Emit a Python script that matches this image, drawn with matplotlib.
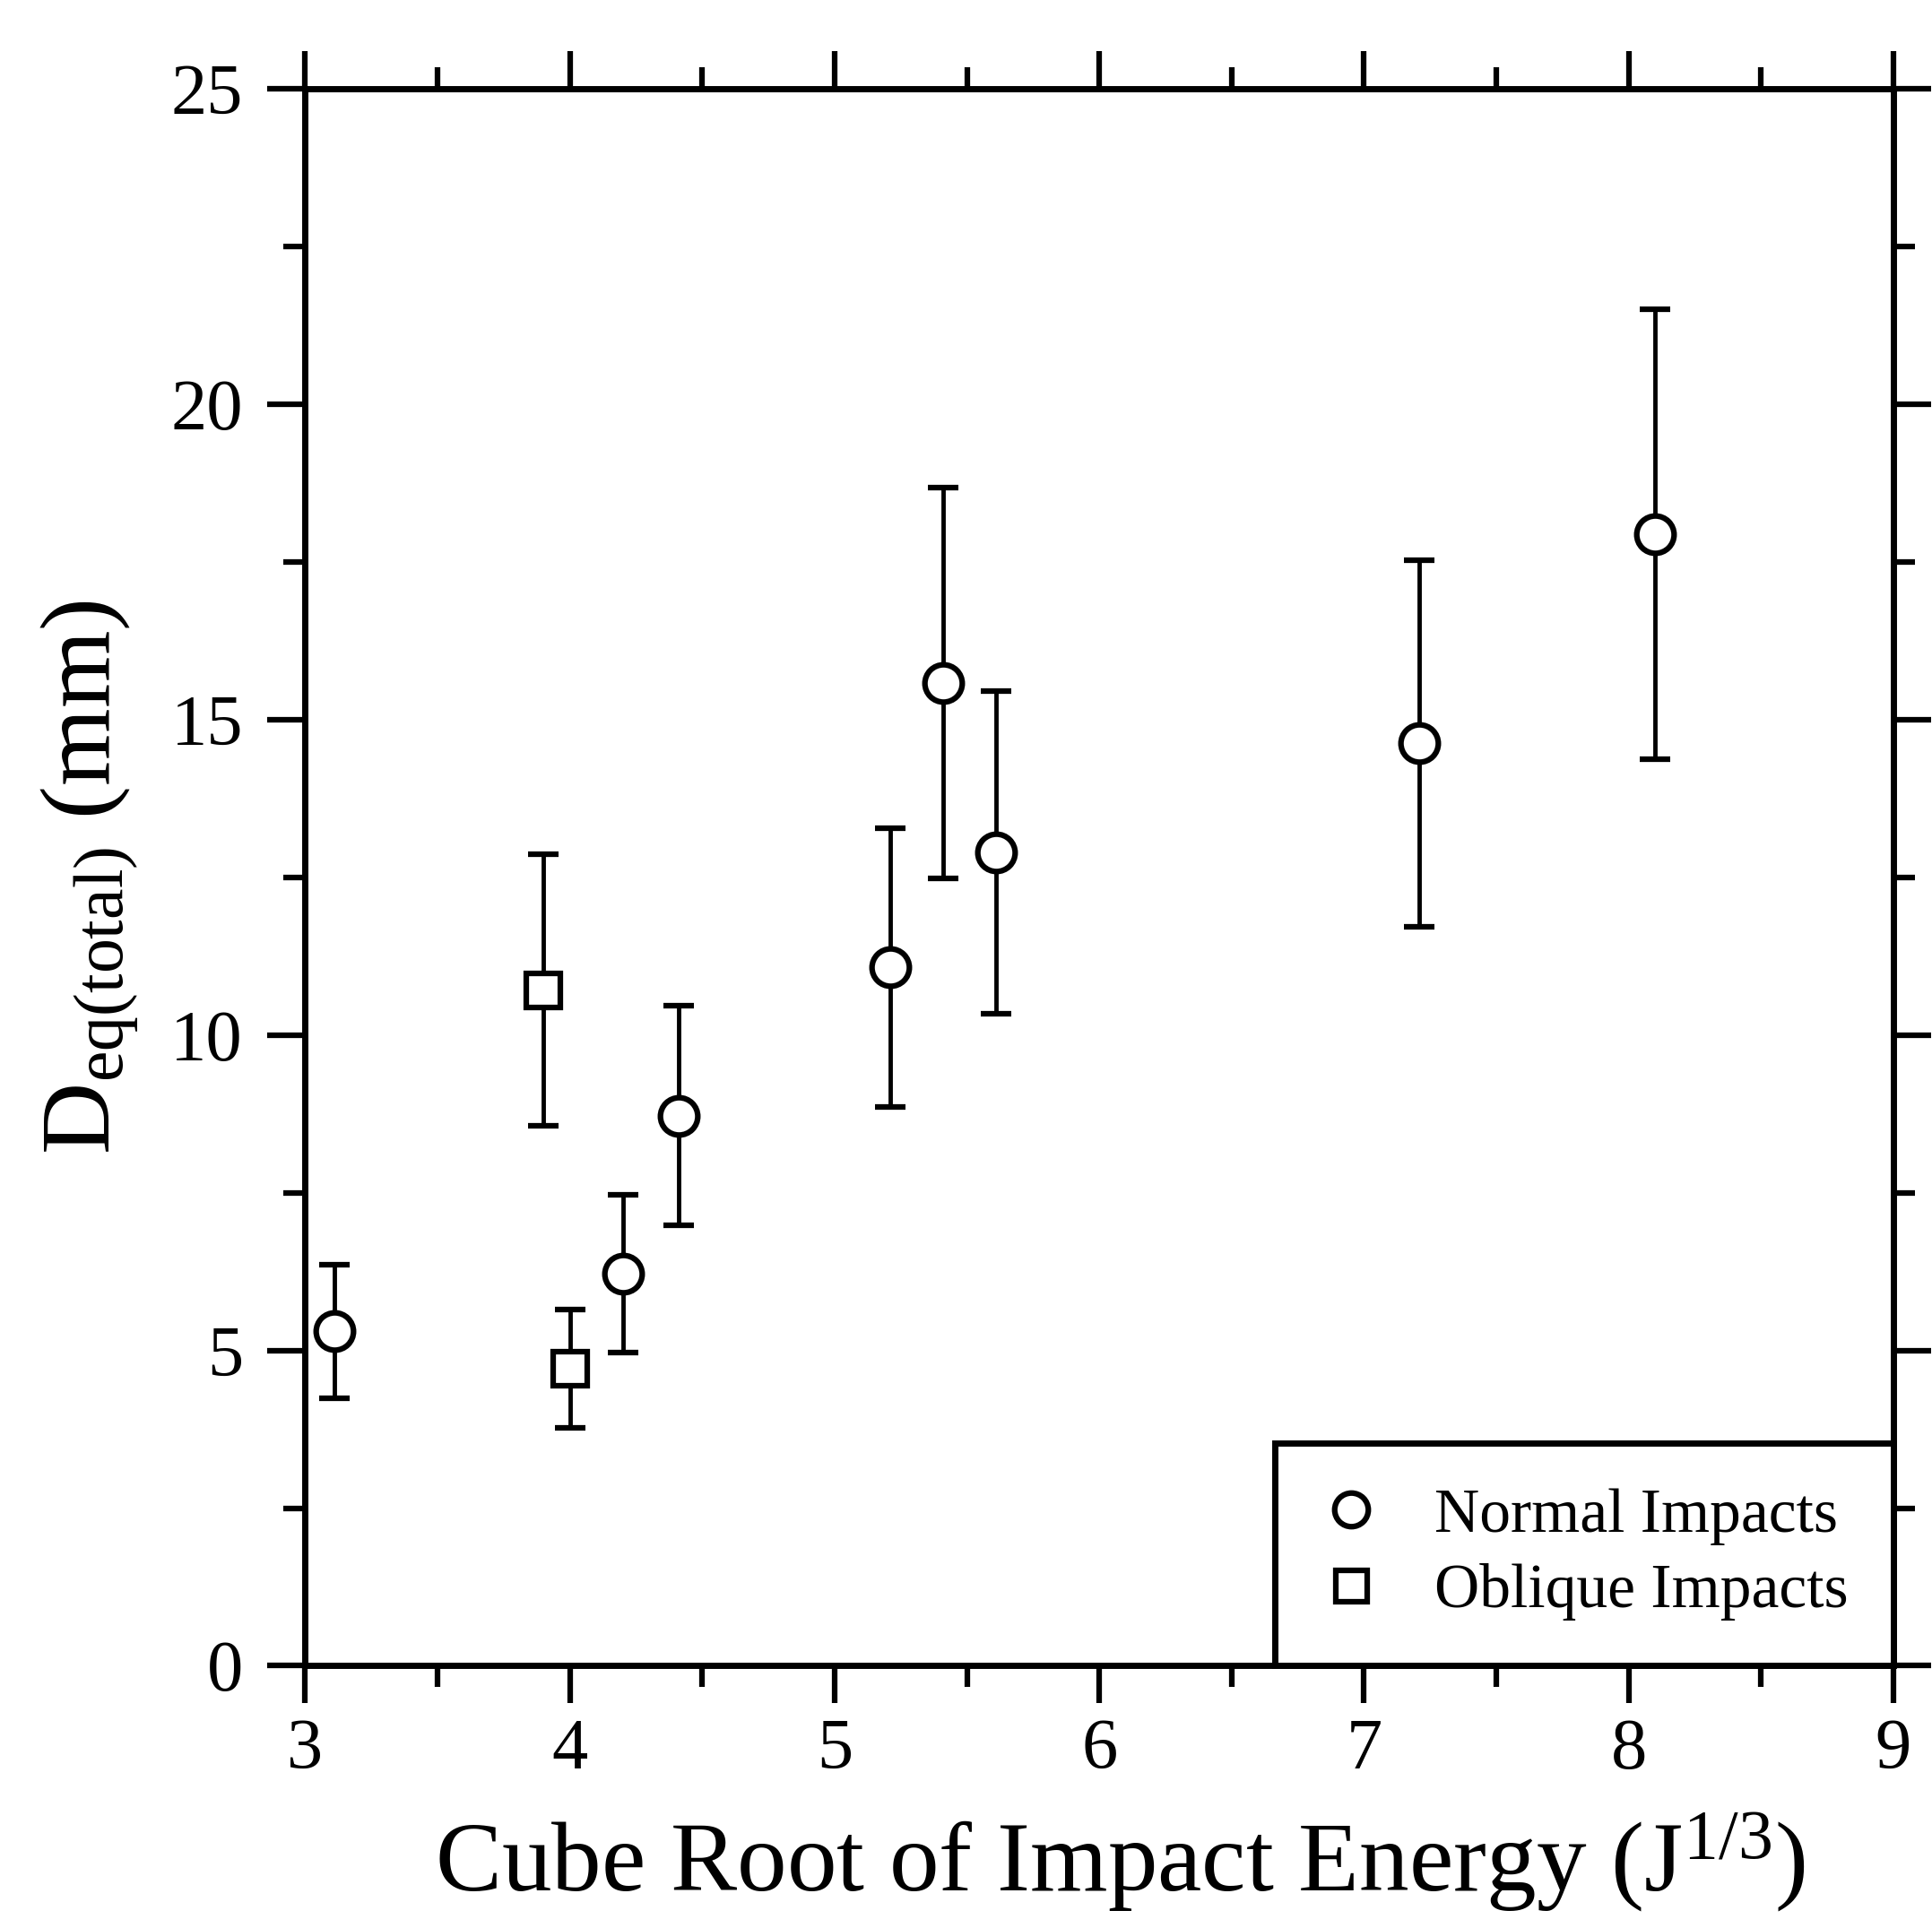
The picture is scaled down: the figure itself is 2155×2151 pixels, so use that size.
import matplotlib
matplotlib.use("Agg")
import matplotlib.pyplot as plt
from matplotlib.ticker import MultipleLocator

plt.rcParams['font.family'] = ['Liberation Serif', 'DejaVu Serif']
plt.rcParams['mathtext.fontset'] = 'custom'
plt.rcParams['mathtext.rm'] = 'Liberation Serif'
plt.rcParams['mathtext.it'] = 'Liberation Serif:italic'

# normal impacts (circles)
normal_x = [3.11, 4.20, 4.41, 5.21, 5.41, 5.61, 7.21, 8.10]
normal_y = [5.30, 6.21, 8.72, 11.07, 15.58, 12.89, 14.62, 17.94]
normal_err = [1.06, 1.25, 1.74, 2.21, 3.10, 2.56, 2.90, 3.57]

# oblique impacts (squares)
oblique_x = [3.90, 4.00]
oblique_y = [10.71, 4.71]
oblique_err = [2.15, 0.94]

x_ticks = [3, 4, 5, 6, 7, 8, 9]
y_ticks = [0, 5, 10, 15, 20, 25]

fig = plt.figure(figsize=(21.55, 21.51), dpi=100)
ax = fig.add_axes([0.158, 0.136, 0.822, 0.818])

ax.errorbar(normal_x, normal_y, yerr=normal_err, fmt='o', color='black',
            mfc='white', mec='black', ms=30, mew=4.5, elinewidth=3.5,
            capsize=12, capthick=5, label='Normal Impacts')
ax.errorbar(oblique_x, oblique_y, yerr=oblique_err, fmt='s', color='black',
            mfc='white', mec='black', ms=28, mew=4.5, elinewidth=3.5,
            capsize=12, capthick=5, label='Oblique Impacts')

ax.set_xlim(3, 9)
ax.set_ylim(0, 25)
ax.set_xticks(x_ticks)
ax.set_yticks(y_ticks)
ax.xaxis.set_minor_locator(MultipleLocator(0.5))
ax.yaxis.set_minor_locator(MultipleLocator(2.5))

for s in ax.spines.values():
    s.set_linewidth(5)

ax.tick_params(which='both', direction='out', top=True, right=True,
               labeltop=False, labelright=False, width=4.5)
ax.tick_params(which='major', length=30)
ax.tick_params(which='minor', length=17)
ax.tick_params(axis='x', which='major', labelsize=58, pad=12)
ax.tick_params(axis='y', which='major', labelsize=58, pad=20)

ax.set_xlabel(r'Cube Root of Impact Energy (J$^{1/3}$)', fontsize=80, labelpad=22)
ax.xaxis.label.set_x(0.513)
ax.set_ylabel(r'$\mathrm{D}_{\mathrm{eq(total)}}$ (mm)', fontsize=80, labelpad=24)

handles, labels = ax.get_legend_handles_labels()
handles = [h[0] for h in handles]
leg = ax.legend(handles, labels, loc='lower right', fontsize=50,
                frameon=True, fancybox=False, framealpha=1, borderaxespad=0,
                handlelength=1.0, handletextpad=0.85, borderpad=0.72,
                labelspacing=0.3, markerscale=0.9)
leg.get_frame().set_edgecolor('black')
leg.get_frame().set_linewidth(5)

fig.savefig('out.png', dpi=100)
